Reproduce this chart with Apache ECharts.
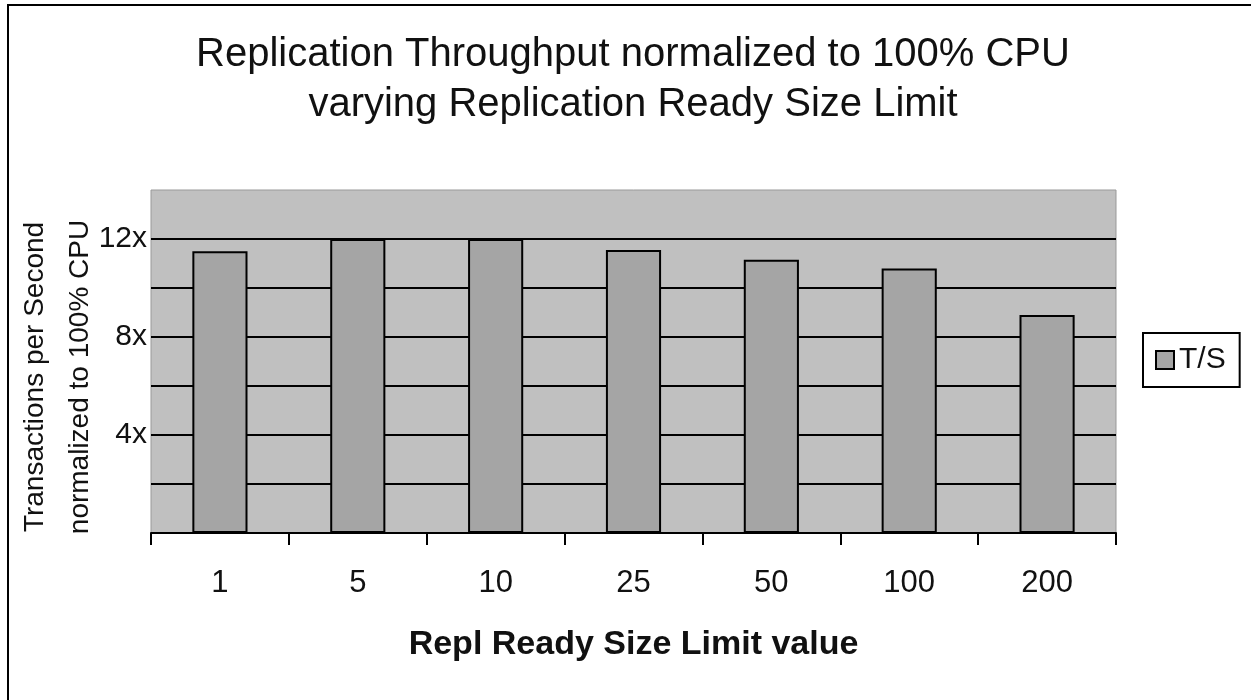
<!DOCTYPE html>
<html>
<head>
<meta charset="utf-8">
<style>html,body{margin:0;padding:0;background:#fff}#c{width:1251px;height:700px}</style>
<script src="https://cdn.jsdelivr.net/npm/echarts@6/dist/echarts.min.js"></script>
</head>
<body>
<div id="c"></div>
<script>
var categories = ['1', '5', '10', '25', '50', '100', '200'];
var tsValues = [11.5, 12.0, 12.0, 11.55, 11.15, 10.8, 8.9];
var seriesName = 'T/S';
var titleLines = ['Replication Throughput normalized to 100% CPU', 'varying Replication Ready Size Limit'];
var yNameLines = ['Transactions per Second', 'normalized to 100% CPU'];
var xName = 'Repl Ready Size Limit value';
var yLabelValues = [4, 8, 12];

var FONT = '"Liberation Sans", Arial, sans-serif';
var chart = echarts.init(document.getElementById('c'), null, {renderer: 'canvas'});
chart.setOption({
  backgroundColor: '#fff',
  animation: false,
  title: {
    text: titleLines.join('\n'),
    left: 633, top: 30, textAlign: 'center', padding: 0,
    textStyle: {fontFamily: FONT, fontSize: 40, fontWeight: 'normal', color: '#111', lineHeight: 50}
  },
  legend: {
    data: [seriesName],
    left: 1143, top: 333,
    padding: [12, 14, 12, 12],
    borderColor: '#000', borderWidth: 2,
    itemWidth: 18, itemHeight: 18,
    icon: 'rect',
    textStyle: {fontFamily: FONT, fontSize: 30, color: '#111'}
  },
  grid: {
    left: 151, top: 190, right: 135, bottom: 167,
    show: true, backgroundColor: '#c0c0c0', borderColor: '#999', borderWidth: 1,
    containLabel: false
  },
  xAxis: {
    type: 'category',
    data: categories,
    name: xName,
    nameLocation: 'middle',
    nameGap: 95,
    nameTextStyle: {fontFamily: FONT, fontSize: 34, fontWeight: 'bold', color: '#111'},
    axisLine: {show: true, lineStyle: {color: '#000', width: 2}},
    axisTick: {show: true, length: 12, interval: 0, lineStyle: {color: '#000', width: 2}},
    axisLabel: {fontFamily: FONT, fontSize: 31, color: '#111', margin: 35, interval: 0},
    splitLine: {show: false}
  },
  yAxis: {
    type: 'value',
    min: 0, max: 14, interval: 2,
    axisLine: {show: false},
    axisTick: {show: false},
    axisLabel: {
      fontFamily: FONT, fontSize: 30, color: '#111', margin: 4, padding: [8, 0, 0, 0],
      formatter: function (v) { return yLabelValues.indexOf(v) >= 0 ? v + 'x' : ''; }
    },
    splitLine: {show: true, showMinLine: false, showMaxLine: false, lineStyle: {color: '#000', width: 2}}
  },
  graphic: [
    {
      type: 'rect', silent: true, z: -1,
      shape: {x: 8, y: 5, width: 1400, height: 1000},
      style: {fill: 'none', stroke: '#000', lineWidth: 2}
    },
    {
      type: 'text', silent: true,
      x: 58, y: 377, rotation: Math.PI / 2,
      style: {
        text: yNameLines.join('\n'),
        font: '28px ' + FONT, fill: '#111',
        align: 'center', verticalAlign: 'middle', lineHeight: 45
      }
    }
  ],
  series: [{
    name: seriesName,
    type: 'bar',
    data: tsValues,
    barWidth: '40%',
    itemStyle: {color: '#a5a5a5', borderColor: '#000', borderWidth: 2}
  }]
});
</script>
</body>
</html>
